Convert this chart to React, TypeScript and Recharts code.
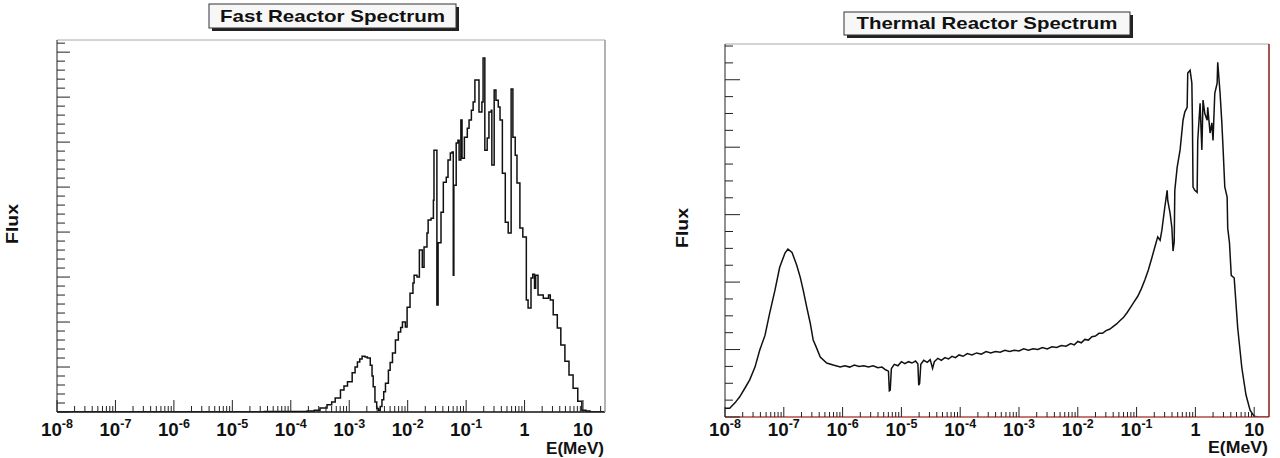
import React from 'react';
import { LineChart, Line, XAxis, YAxis } from 'recharts';

const FONT = '"Liberation Sans", Arial, Helvetica, sans-serif';

// decade ticks on the energy axis (log10 of E in MeV)
const DECADES = [-8, -7, -6, -5, -4, -3, -2, -1, 0, 1];
const DECADE_BASE = ['10', '10', '10', '10', '10', '10', '10', '10', '1', '10'];
const DECADE_EXP = ['-8', '-7', '-6', '-5', '-4', '-3', '-2', '-1', '', ''];

// fast reactor spectrum: log10(E/MeV) and flux (arbitrary units)
const FAST_LOGE = [
  -8.0, -4.6, -4.45, -3.72, -3.6, -3.5, -3.38, -3.3, -3.24, -3.15, -3.09, -3.03, -2.95, -2.9, -2.86,
  -2.82, -2.78, -2.73, -2.69, -2.64, -2.61, -2.59, -2.56, -2.53, -2.5, -2.47, -2.44, -2.41, -2.38,
  -2.33, -2.3, -2.26, -2.21, -2.16, -2.12, -2.09, -2.04, -2.01, -1.96, -1.91, -1.89, -1.84, -1.8,
  -1.75, -1.72, -1.67, -1.65, -1.6, -1.56, -1.55, -1.5, -1.48, -1.43, -1.39, -1.34, -1.31, -1.27,
  -1.24, -1.22, -1.21, -1.17, -1.14, -1.12, -1.09, -1.07, -1.03, -0.98, -0.95, -0.91, -0.88, -0.85,
  -0.78, -0.73, -0.71, -0.68, -0.64, -0.61, -0.57, -0.56, -0.52, -0.49, -0.45, -0.42, -0.38, -0.33,
  -0.28, -0.23, -0.2, -0.16, -0.13, -0.08, -0.03, 0.03, 0.06, 0.11, 0.14, 0.17, 0.19, 0.23, 0.25,
  0.32, 0.38, 0.41, 0.44, 0.49, 0.56, 0.62, 0.69, 0.76, 0.83, 0.91, 0.98, 1.05, 1.12, 1.376,
];
const FAST_FLUX = [
  0, 0, 0.01, 0.02, 0.04, 0.09, 0.16, 0.22, 0.31, 0.49, 0.58, 0.67, 0.87, 1.0, 1.11,
  1.18, 1.24, 1.22, 1.2, 1.04, 0.8, 0.56, 0.22, 0.08, 0.04, 0.12, 0.27, 0.45, 0.64,
  0.93, 1.1, 1.31, 1.6, 1.78, 1.88, 2.0, 1.89, 2.33, 2.64, 2.87, 3.04, 3.0, 3.6,
  3.22, 3.67, 3.98, 4.27, 4.31, 4.71, 5.82, 2.38, 3.76, 4.44, 5.11, 5.22, 5.6, 5.76,
  5.78, 3.04, 5.04, 5.98, 6.04, 5.6, 6.49, 5.64, 6.11, 6.31, 6.49, 6.71, 6.89, 7.38,
  6.67, 6.89, 7.87, 5.82, 6.09, 6.67, 6.71, 5.49, 7.16, 6.93, 6.78, 6.49, 5.31, 4.22,
  3.98, 7.18, 6.11, 5.71, 5.09, 4.09, 3.89, 2.49, 2.31, 2.98, 3.06, 2.75, 3.04, 2.6, 2.6,
  2.53, 2.53, 2.6, 2.49, 2.16, 1.87, 1.49, 1.13, 0.82, 0.53, 0.24, 0.04, 0.02, 0, 0,
];

// thermal reactor spectrum: log10(E/MeV) and flux (arbitrary units)
const THERMAL_LOGE = [
  -8.0, -7.98, -7.92, -7.83, -7.75, -7.66, -7.58, -7.49, -7.41, -7.32, -7.24, -7.15, -7.07, -6.98,
  -6.93, -6.86, -6.78, -6.72, -6.67, -6.61, -6.55, -6.5, -6.45, -6.38, -6.27, -6.16, -6.04, -5.96,
  -5.88, -5.8, -5.72, -5.64, -5.56, -5.48, -5.4, -5.33, -5.27, -5.22, -5.205, -5.19, -5.17, -5.12,
  -5.06, -5.0, -4.94, -4.88, -4.82, -4.76, -4.72, -4.705, -4.69, -4.67, -4.62, -4.56, -4.51, -4.47,
  -4.44, -4.38, -4.32, -4.26, -4.2, -4.14, -4.08, -4.02, -3.95, -3.88, -3.8, -3.72, -3.64, -3.56,
  -3.48, -3.4, -3.32, -3.24, -3.16, -3.08, -3.0, -2.92, -2.84, -2.76, -2.68, -2.6, -2.52, -2.44,
  -2.36, -2.28, -2.2, -2.12, -2.06, -2.0, -1.94, -1.88, -1.82, -1.76, -1.7, -1.64, -1.58, -1.52,
  -1.46, -1.4, -1.34, -1.28, -1.22, -1.16, -1.1, -1.04, -0.98, -0.92, -0.86, -0.8, -0.74, -0.68,
  -0.64, -0.6, -0.57, -0.52, -0.48, -0.47, -0.43, -0.4, -0.38, -0.36, -0.35, -0.31, -0.26, -0.21,
  -0.18, -0.14, -0.13, -0.09, -0.06, -0.05, -0.04, -0.01, 0.03, 0.04, 0.08, 0.11, 0.13, 0.16,
  0.2, 0.21, 0.25, 0.28, 0.3, 0.33, 0.37, 0.38, 0.42, 0.45, 0.47, 0.5, 0.54, 0.55, 0.58, 0.61,
  0.66, 0.72, 0.79, 0.86, 0.93, 1.0, 1.07, 1.252,
];
const THERMAL_FLUX = [
  0.13, 0.13, 0.13, 0.21, 0.3, 0.43, 0.55, 0.74, 0.99, 1.21, 1.54, 1.88, 2.22, 2.43,
  2.49, 2.44, 2.25, 2.07, 1.88, 1.63, 1.39, 1.14, 1.04, 0.89, 0.8, 0.77, 0.74, 0.76,
  0.74, 0.77, 0.75, 0.76, 0.74, 0.76, 0.73, 0.74, 0.7, 0.68, 0.39, 0.4, 0.72, 0.78,
  0.76, 0.82, 0.79, 0.82, 0.8, 0.83, 0.79, 0.47, 0.5, 0.78, 0.84, 0.81, 0.85, 0.72,
  0.82, 0.87, 0.84, 0.88, 0.86, 0.9, 0.88, 0.92, 0.9, 0.94, 0.92, 0.95, 0.93, 0.97,
  0.95, 0.97, 0.96, 0.99, 0.97, 0.99, 0.98, 1.01, 0.99, 1.01, 1.0, 1.03, 1.01, 1.04,
  1.03, 1.06, 1.05, 1.09, 1.07, 1.12, 1.1, 1.15, 1.14, 1.19, 1.2, 1.24, 1.24, 1.28,
  1.3, 1.34, 1.38, 1.43, 1.48, 1.55, 1.63, 1.71, 1.79, 1.9, 2.03, 2.18, 2.36, 2.55,
  2.67, 2.62, 2.77, 3.11, 3.36, 3.21, 3.02, 2.81, 2.46, 2.6, 3.36, 3.7, 3.96, 4.4,
  4.52, 4.59, 5.1, 5.14, 4.95, 4.36, 3.41, 3.36, 3.33, 4.1, 4.65, 3.96, 4.7, 4.5,
  4.4, 4.59, 4.21, 4.36, 4.1, 4.8, 4.95, 5.26, 4.8, 4.36, 4.0, 3.41, 3.26, 2.8, 2.58, 2.1,
  2.06, 1.32, 0.73, 0.33, 0.1, 0.01, 0, 0,
];

const fastData = FAST_LOGE.map((x, i) => ({ x, y: FAST_FLUX[i] }));
const thermalData = THERMAL_LOGE.map((x, i) => ({ x, y: THERMAL_FLUX[i] }));

interface PlotProps {
  data: { x: number; y: number }[];
  xMax: number;
  yMax: number;
  yMinorStep: number;
  margin: { top: number; right: number; bottom: number; left: number };
  labelDy: number;
  xTickLen: [number, number];
  yTickLen: [number, number];
  bottomColor: string;
  rightColor: string;
  lineType: 'stepAfter' | 'linear';
}

function SpectrumPlot(p: PlotProps) {
  const xTicks = DECADES.flatMap((d) => [1, 2, 3, 4, 5, 6, 7, 8, 9].map((k) => d + Math.log10(k))).filter(
    (v) => v <= p.xMax + 1e-9
  );
  const nY = Math.floor(p.yMax / p.yMinorStep + 1e-6) + 1;
  const yTicks = Array.from({ length: nY }, (_, i) => +(i * p.yMinorStep).toFixed(4));

  const renderXTick = (props: any) => {
    const { x, y, payload } = props;
    const idx = DECADES.findIndex((d) => Math.abs(d - payload.value) < 1e-6);
    const major = idx >= 0;
    const hasExp = major && DECADE_EXP[idx] !== '';
    return (
      <g>
        <line x1={x} y1={y} x2={x} y2={y - (major ? p.xTickLen[0] : p.xTickLen[1])} stroke="#222" strokeWidth={1} />
        {major && (
          <text
            x={x}
            y={y + p.labelDy}
            textAnchor="middle"
            fontFamily={FONT}
            fontWeight="bold"
            fontSize={18}
            fill="#111"
            textLength={hasExp ? 32 : undefined}
            lengthAdjust="spacingAndGlyphs"
          >
            {DECADE_BASE[idx]}
            {hasExp && (
              <tspan dy={-8} fontSize={12}>
                {DECADE_EXP[idx]}
              </tspan>
            )}
          </text>
        )}
      </g>
    );
  };

  const renderYTick = (props: any) => {
    const { x, y, payload } = props;
    const major = Math.abs(payload.value - Math.round(payload.value)) < 1e-6;
    return (
      <line x1={x} y1={y} x2={x + (major ? p.yTickLen[0] : p.yTickLen[1])} y2={y} stroke="#222" strokeWidth={1} />
    );
  };

  return (
    <LineChart width={640} height={458} data={p.data} margin={p.margin}>
      <XAxis
        dataKey="x"
        type="number"
        domain={[-8, p.xMax]}
        ticks={xTicks}
        interval={0}
        height={1}
        tickSize={0}
        tickMargin={0}
        tickLine={false}
        tick={renderXTick}
        axisLine={{ stroke: p.bottomColor, strokeWidth: 1.5 }}
        allowDataOverflow
      />
      <XAxis
        xAxisId="top"
        orientation="top"
        type="number"
        domain={[0, 1]}
        height={1}
        tick={false}
        tickLine={false}
        axisLine={{ stroke: '#a8a8a8', strokeWidth: 1 }}
      />
      <YAxis
        type="number"
        domain={[0, p.yMax]}
        ticks={yTicks}
        interval={0}
        width={1}
        tickSize={0}
        tickMargin={0}
        tickLine={false}
        tick={renderYTick}
        axisLine={{ stroke: '#222', strokeWidth: 1 }}
        allowDataOverflow
      />
      <YAxis
        yAxisId="right"
        orientation="right"
        type="number"
        domain={[0, 1]}
        width={1}
        tick={false}
        tickLine={false}
        axisLine={{ stroke: p.rightColor, strokeWidth: 1.5 }}
      />
      <Line
        type={p.lineType}
        dataKey="y"
        stroke="#111"
        strokeWidth={1.5}
        dot={false}
        activeDot={false}
        isAnimationActive={false}
      />
    </LineChart>
  );
}

function TitleBox({ x, y, w, h, text, textLen, baseline }: any) {
  return (
    <g>
      <rect x={x + 3} y={y + 3} width={w} height={h} fill="#222" />
      <rect x={x} y={y} width={w} height={h} fill="#f7f7f7" stroke="#333" strokeWidth={1} />
      <text
        x={x + w / 2}
        y={baseline}
        textAnchor="middle"
        fontFamily={FONT}
        fontWeight="bold"
        fontSize={17}
        fill="#111"
        textLength={textLen}
        lengthAdjust="spacingAndGlyphs"
      >
        {text}
      </text>
    </g>
  );
}

function AxisTitle({ x, y, text, len, rotate, anchor }: any) {
  return (
    <text
      x={x}
      y={y}
      transform={rotate ? `rotate(-90 ${x} ${y})` : undefined}
      textAnchor={anchor}
      dominantBaseline={rotate ? 'central' : undefined}
      fontFamily={FONT}
      fontWeight="bold"
      fontSize={17}
      fill="#111"
      textLength={len}
      lengthAdjust="spacingAndGlyphs"
    >
      {text}
    </text>
  );
}

export default function App() {
  return (
    <div style={{ position: 'absolute', left: 0, top: 0, width: 1280, height: 458, background: '#fff' }}>
      <div style={{ position: 'absolute', left: 0, top: 0 }}>
        <SpectrumPlot
          data={fastData}
          xMax={1.376}
          yMax={8.27}
          yMinorStep={0.2}
          margin={{ top: 39, right: 34, bottom: 45, left: 56 }}
          labelDy={24}
          xTickLen={[12, 6]}
          yTickLen={[13, 8]}
          bottomColor="#111"
          rightColor="#9a9a9a"
          lineType="stepAfter"
        />
      </div>
      <div style={{ position: 'absolute', left: 640, top: 0 }}>
        <SpectrumPlot
          data={thermalData}
          xMax={1.252}
          yMax={5.53}
          yMinorStep={0.25}
          margin={{ top: 43, right: 10, bottom: 40, left: 84 }}
          labelDy={19}
          xTickLen={[10, 5]}
          yTickLen={[15, 8]}
          bottomColor="#b04a44"
          rightColor="#8b1a1a"
          lineType="linear"
        />
      </div>
      <svg width={1280} height={458} style={{ position: 'absolute', left: 0, top: 0, pointerEvents: 'none' }}>
        <TitleBox x={209} y={4} w={247} h={24} text="Fast Reactor Spectrum" textLen={225} baseline={22} />
        <TitleBox x={844} y={12} w={286} h={23} text="Thermal Reactor Spectrum" textLen={261} baseline={29} />
        <AxisTitle x={12} y={224} text="Flux" len={40} rotate anchor="middle" />
        <AxisTitle x={682} y={228} text="Flux" len={40} rotate anchor="middle" />
        <AxisTitle x={604} y={454} text="E(MeV)" len={58} anchor="end" />
        <AxisTitle x={1268} y={453} text="E(MeV)" len={60} anchor="end" />
      </svg>
    </div>
  );
}
